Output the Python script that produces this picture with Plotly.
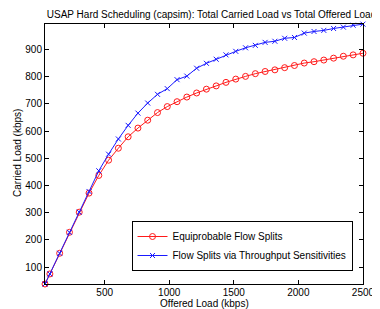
import plotly.graph_objects as go

offered = [37.9] + [round(2500 * k / 33, 1) for k in range(1, 34)]
equiprobable = [38, 75, 151, 228, 302, 372, 437, 493, 537, 579, 611, 640, 668, 690,
                708, 725, 740, 754, 766, 779, 791, 801, 811, 819, 825, 833, 841,
                850, 855, 861, 868, 875, 880, 886]
sensitivities = [38, 75, 151, 228, 302, 378, 454, 515, 571, 621, 666, 703, 735, 756,
                 789, 802, 831, 849, 864, 880, 893, 906, 915, 926, 930, 941, 944,
                 960, 966, 970, 977, 982, 989, 993]
xticks = [500, 1000, 1500, 2000, 2500]
yticks = [100, 200, 300, 400, 500, 600, 700, 800, 900]

FONT = "Liberation Sans, Arial, Helvetica, sans-serif"
# page body has an 8px default margin, so the figure is drawn 8px in from the top-left
OFF = 8
W, H = 380 - OFF, 309 - OFF
ML, MR, MT, MB = 45 - OFF, 6, 24 - OFF, 25
PW, PH = W - ML - MR, H - MT - MB

fig = go.Figure()
fig.add_trace(go.Scatter(
    x=offered, y=equiprobable, mode="lines+markers",
    name="Equiprobable Flow Splits",
    line=dict(color="#ff1a1a", width=1),
    marker=dict(symbol="circle-open", size=6, color="#ff1a1a", line=dict(width=1)),
    cliponaxis=False,
))
fig.add_trace(go.Scatter(
    x=offered, y=sensitivities, mode="lines+markers",
    name="Flow Splits via Throughput Sensitivities",
    line=dict(color="#1a1aff", width=1),
    marker=dict(symbol="x-thin-open", size=5, color="#1a1aff", line=dict(width=1, color="#1a1aff")),
    cliponaxis=False,
))

axis_common = dict(
    showgrid=False, zeroline=False, showline=True, linecolor="black", linewidth=1,
    mirror="ticks", ticks="inside", ticklen=4, tickcolor="black",
    tickfont=dict(size=10, color="black", family=FONT),
    ticklabeloverflow="allow",
)

fig.update_layout(
    width=W, height=H,
    margin=dict(l=ML, r=MR, t=MT, b=MB),
    paper_bgcolor="white", plot_bgcolor="white",
    font=dict(family=FONT, size=10, color="black"),
    title=dict(text="USAP Hard Scheduling (capsim): Total Carried Load vs Total Offered Load",
               x=(211.5 - OFF) / W, xanchor="center", y=1 - (14 - OFF) / H, yanchor="middle",
               font=dict(size=10, family=FONT, color="black")),
    xaxis=dict(range=[37.9, 2500.5], tickvals=xticks, ticklabelstandoff=-1, **axis_common),
    yaxis=dict(range=[38, 993.5], tickvals=yticks, **axis_common),
    legend=dict(x=0.967, y=0.05, xanchor="right", yanchor="bottom",
                bgcolor="white", bordercolor="black", borderwidth=1,
                font=dict(size=10, family=FONT, color="black"),
                itemwidth=30, tracegroupgap=0),
    showlegend=True,
    annotations=[
        dict(text="Offered Load (kbps)", xref="paper", yref="paper",
             x=(210 - 45) / PW, y=-(303.5 - (309 - MB)) / PH,
             xanchor="center", yanchor="middle", showarrow=False,
             font=dict(size=10, family=FONT, color="black")),
        dict(text="Carried Load (kbps)", xref="paper", yref="paper",
             x=-(45 - 16) / PW, y=(309 - MB - 153) / PH,
             xanchor="center", yanchor="middle", showarrow=False, textangle=-90,
             font=dict(size=10, family=FONT, color="black")),
    ],
)

fig.write_html("out.html")
